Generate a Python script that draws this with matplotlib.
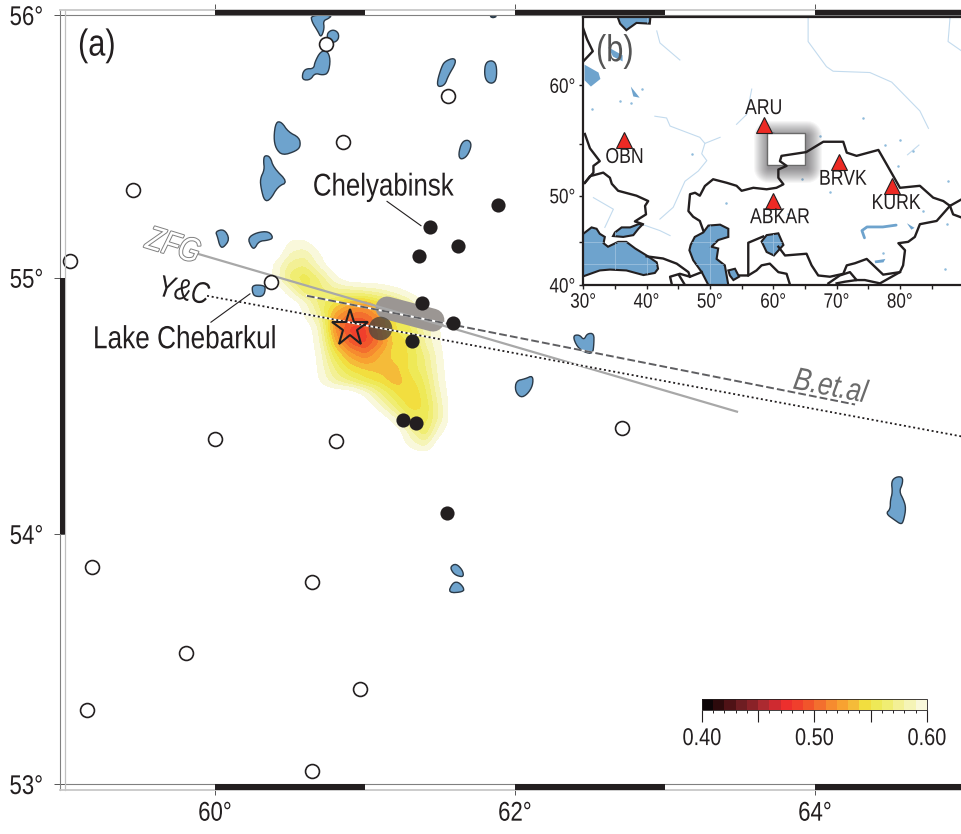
"""Chelyabinsk source map: (a) back-projection map, (b) station inset."""
import numpy as np
import matplotlib
matplotlib.use("Agg")
import matplotlib.pyplot as plt
import matplotlib.patheffects as pe
from matplotlib.colors import ListedColormap
from matplotlib.patches import Rectangle, Polygon
from matplotlib.transforms import Affine2D

plt.rcParams['font.family'] = ['Liberation Sans', 'DejaVu Sans']

INK = '#231f20'
WATER = '#6ea3cd'

# ---- main map data (lon, lat) ----
hollow_lon = [60.74, 61.553, 60.853, 59.453, 59.033, 60.373, 60.0, 60.807, 62.713, 59.18, 60.647, 59.807, 60.967, 59.147, 60.647]
hollow_lat = [55.89, 55.696, 55.521, 55.335, 55.065, 54.984, 54.375, 54.367, 54.418, 53.868, 53.808, 53.528, 53.384, 53.30, 53.052]
solid_lon = [61.433, 61.887, 61.62, 61.36, 61.38, 61.587, 61.313, 61.253, 61.34, 61.547]
solid_lat = [55.194, 55.281, 55.122, 55.084, 54.902, 54.824, 54.754, 54.449, 54.434, 54.082]

star_lon, star_lat = 60.9, 54.805
blob_lon, blob_lat = 61.1, 54.805
track_lon = [61.147, 61.453]
track_lat = [54.883, 54.836]

zfg_lon = [59.867, 63.48]
zfg_lat = [55.095, 54.48]
bet_lon = [60.613, 64.267]
bet_lat = [54.93, 54.508]
yc_lon = [59.947, 64.98]
yc_lat = [54.93, 54.383]

lakes = [
    [(60.647, 55.996), (60.773, 55.996), (60.753, 55.985), (60.72, 55.977), (60.727, 55.951), (60.707, 55.92), (60.687, 55.943), (60.653, 55.973)],
    [(60.753, 55.932), (60.787, 55.943), (60.82, 55.932), (60.82, 55.909), (60.787, 55.897), (60.753, 55.909)],
    [(60.667, 55.821), (60.70, 55.856), (60.74, 55.859), (60.76, 55.829), (60.747, 55.783), (60.713, 55.776), (60.667, 55.783), (60.64, 55.76), (60.593, 55.76), (60.593, 55.783), (60.613, 55.798), (60.66, 55.798)],
    [(61.533, 55.821), (61.587, 55.833), (61.6, 55.817), (61.553, 55.772), (61.533, 55.741), (61.493, 55.734), (61.487, 55.753), (61.513, 55.802)],
    [(61.807, 55.817), (61.847, 55.825), (61.873, 55.81), (61.873, 55.76), (61.847, 55.745), (61.813, 55.753), (61.8, 55.779)],
    [(61.833, 55.996), (61.88, 55.996), (61.853, 55.989)],
    [(60.413, 55.589), (60.447, 55.589), (60.487, 55.555), (60.553, 55.536), (60.56, 55.506), (60.533, 55.49), (60.453, 55.475), (60.413, 55.498), (60.4, 55.536)],
    [(60.333, 55.46), (60.367, 55.456), (60.387, 55.418), (60.473, 55.369), (60.413, 55.354), (60.367, 55.308), (60.333, 55.304), (60.313, 55.346), (60.307, 55.38), (60.333, 55.411), (60.327, 55.441)],
    [(61.647, 55.517), (61.687, 55.525), (61.707, 55.506), (61.68, 55.468), (61.64, 55.456), (61.627, 55.475)],
    [(60.007, 55.175), (60.06, 55.183), (60.093, 55.148), (60.053, 55.118), (60.033, 55.125), (60.02, 55.156)],
    [(60.227, 55.152), (60.28, 55.171), (60.353, 55.175), (60.38, 55.152), (60.347, 55.144), (60.293, 55.141), (60.267, 55.114), (60.247, 55.122)],
    [(60.253, 54.969), (60.313, 54.969), (60.333, 54.961), (60.32, 54.93), (60.267, 54.93), (60.253, 54.945)],
    [(62.393, 54.773), (62.433, 54.777), (62.46, 54.758), (62.48, 54.781), (62.52, 54.781), (62.52, 54.746), (62.513, 54.711), (62.467, 54.715), (62.42, 54.734)],
    [(62.013, 54.598), (62.067, 54.605), (62.113, 54.617), (62.113, 54.582), (62.08, 54.551), (62.04, 54.539), (62.007, 54.563)],
    [(61.573, 53.868), (61.607, 53.88), (61.647, 53.856), (61.653, 53.832), (61.613, 53.836), (61.587, 53.848)],
    [(61.56, 53.768), (61.587, 53.804), (61.62, 53.808), (61.653, 53.788), (61.653, 53.772)],
    [(64.513, 54.199), (64.54, 54.215), (64.58, 54.215), (64.58, 54.191), (64.56, 54.164), (64.587, 54.133), (64.6, 54.105), (64.587, 54.063), (64.573, 54.047), (64.533, 54.063), (64.48, 54.086), (64.507, 54.102), (64.507, 54.133), (64.52, 54.16)],
]

# correlation field, W = outside the plotted range
W = 0.615
heat_lon = [60.3, 60.4, 60.5, 60.6, 60.7, 60.8, 60.9, 61.0, 61.1, 61.2, 61.3, 61.4, 61.5, 61.6, 61.7]
heat_lat = [55.20, 55.15, 55.10, 55.05, 55.00, 54.95, 54.90, 54.85, 54.80, 54.75, 54.70, 54.65, 54.60, 54.55, 54.50, 54.45, 54.40, 54.35, 54.30]
heat = [
    [W, W, W, W, W, W, W, W, W, W, W, W, W, W, W],
    [W, W, .602, .602, W, W, W, W, W, W, W, W, W, W, W],
    [W, W, .59, .585, .602, W, W, W, W, W, W, W, W, W, W],
    [W, .598, .575, .57, .593, W, W, W, W, W, W, W, W, W, W],
    [W, .598, .565, .552, .57, .597, W, W, W, W, W, W, W, W, W],
    [W, W, .59, .56, .565, .575, .575, .58, .585, .595, .605, W, W, W, W],
    [W, W, W, .593, .565, .545, .53, .525, .545, .56, .58, .602, W, W, W],
    [W, W, W, .60, .575, .52, .50, .50, .52, .55, .565, .593, W, W, W],
    [W, W, W, W, .585, .515, .485, .485, .515, .55, .555, .583, .60, W, W],
    [W, W, W, W, .59, .53, .495, .485, .51, .545, .55, .58, .60, W, W],
    [W, W, W, W, .595, .552, .525, .51, .53, .545, .55, .57, .597, W, W],
    [W, W, W, W, .597, .567, .545, .537, .535, .535, .552, .567, .595, W, W],
    [W, W, W, W, .60, .58, .567, .553, .545, .533, .545, .56, .593, W, W],
    [W, W, W, W, W, W, W, .598, .57, .55, .537, .555, .588, W, W],
    [W, W, W, W, W, W, W, W, .593, .565, .545, .55, .583, W, W],
    [W, W, W, W, W, W, W, W, W, .593, .56, .553, .583, W, W],
    [W, W, W, W, W, W, W, W, W, W, .583, .56, .597, W, W],
    [W, W, W, W, W, W, W, W, W, W, .597, .583, W, W, W],
    [W, W, W, W, W, W, W, W, W, W, W, W, W, W, W],
]
heat_levels = np.round(np.arange(0.40, 0.601, 0.01), 2)
heat_colors = ['#0d0507', '#2d0a0c', '#4f1216', '#6e1d22', '#8a2228', '#ac2a30', '#cf2a30', '#ed2f2d', '#f03f2c', '#f1552b',
               '#f36f2e', '#f68b2f', '#f8a231', '#f5bb39', '#f2de3f', '#eee957', '#f0ed72', '#f3f095', '#f5f4b6', '#f9f8db']

black_lon_spans = [(60, 61), (62, 63), (64, 65)]
black_lat_spans = [(54, 55)]

# ---- inset data (lon, lat) ----
stations = ['OBN', 'ARU', 'ABKAR', 'BRVK', 'KURK']
sta_lon = [36.5, 58.6, 60.0, 70.4, 78.7]
sta_lat = [55.35, 56.7, 49.45, 53.3, 50.95]
sta_lab_lon = [36.5, 58.5, 61.05, 70.95, 79.35]
sta_lab_lat = [53.75, 58.1, 47.7, 51.65, 49.2]

seas = [
    [(30, 45.95), (31.3, 46.65), (32.1, 46.5), (32.6, 45.95), (33.4, 45.6), (33.2, 44.9), (33.9, 44.5), (35.5, 45.05), (36.8, 45.05), (38.2, 44.3), (40, 43.5), (41.6, 42.7), (41.8, 41.95), (41.3, 41.45), (39.5, 41.2), (36.8, 41.75), (34.2, 41.85), (32.6, 41.75), (30, 41.05), (29, 41.05), (29, 45.95)],
    [(35, 46.1), (36.05, 46.65), (37.4, 46.65), (38.7, 47.0), (39.4, 47.0), (38.7, 46.5), (37.9, 45.8), (36.3, 45.6), (34.7, 45.7)],
    [(46.95, 44.7), (47.6, 45.6), (48.95, 46.1), (49.75, 46.85), (51.6, 46.95), (52.9, 46.5), (52.9, 45.6), (51.3, 45.25), (50.25, 44.5), (51.3, 44.3), (51.05, 43.1), (52.35, 42.35), (52.9, 40), (52.9, 39), (49.75, 39), (49.75, 40), (48.7, 41.55), (47.35, 42.95), (46.75, 44.1)],
    [(52.9, 41.75), (53.95, 41.95), (54.6, 41), (53.7, 40.6), (53.15, 41.15)],
    [(58.15, 45.1), (58.95, 45.8), (60.8, 46), (61.6, 44.7), (60.1, 43.5), (58.95, 43.9)],
    [(35, 65.5), (35.8, 64.55), (36.8, 64.1), (38.4, 64.6), (40.5, 64.55), (40.7, 65.5)],
]
inland_lakes = [
    [(30.2, 61.6), (32.4, 61), (32.7, 60.5), (31.2, 59.9), (30.2, 60.4)],
    [(33.9, 62.9), (36.2, 62.3), (36.2, 61.85), (34.7, 62.2)],
    [(37.5, 59.9), (38.9, 59), (37.9, 59.1)],
    [(76.0, 42.9), (77.7, 43.1), (77.4, 42.7), (76.1, 42.6)],
    [(81.1, 47.1), (82.3, 46.6), (81.8, 46.4)],
]
speck_lon = [67.35, 77.6, 80, 68.95, 64.5, 79.75, 82.1, 83.7, 87.6, 87.4, 87.1, 77.4, 35.8, 37.6, 39.2, 31.3, 60, 47.2, 52.5, 62.3, 74.1]
speck_lat = [55.75, 54.9, 55.4, 50.35, 51.7, 52.95, 54.35, 48.4, 51.5, 47, 41.95, 43.8, 58.7, 58.6, 59.7, 58.1, 56, 54.1, 49.2, 48.1, 57.3]
balkhash_lon = [74.4, 74.0, 74.8, 77.3, 79.4]
balkhash_lat = [45.5, 46.3, 46.7, 46.7, 46.9]
rivers = [
    [(65.5, 64.9), (65.5, 63.3), (68.4, 61.45), (69.45, 61.1), (75.25, 61), (78.7, 60.25), (83.15, 57.9), (84.5, 56.4)],
    [(87.9, 64.9), (87.6, 63.3), (89.8, 62.6)],
    [(41.6, 64.05), (42.1, 63.2), (45.25, 61.95)],
    [(56.6, 59.7), (55.8, 57.6), (54.2, 56.75)],
    [(41.3, 57.45), (43.15, 57.3), (43.7, 56.6), (48.4, 55.6), (49.2, 55.05), (51.6, 55.6)],
    [(49.2, 55.05), (48.7, 54.1), (49.5, 53.45), (48.15, 52.45), (46.05, 51.45), (44.2, 48.8), (42.1, 47.55)],
    [(31.6, 49.8), (34.75, 48.6), (33.4, 46.65)],
    [(39.2, 47), (42.1, 46.3), (43.7, 45.75)],
    [(60.5, 55.9), (60.5, 54.8)],
    [(81.2, 54.0), (83.0, 54.9)],
]
borders = [
    [(30, 64.2), (30.6, 63.45), (31.5, 62.6), (30, 61.85)],
    [(30.25, 55.9), (31.05, 54.6), (32.6, 53.4), (31.6, 52.95), (31.6, 52.3), (30.25, 51.3), (29, 50.9)],
    [(30.25, 51.3), (31.05, 51.95), (33.15, 52.3), (34.2, 51.8), (34.5, 51.2), (35.5, 50.5), (38.4, 50), (40.25, 49.45), (39.75, 48.95), (39.9, 48.05), (38.95, 47.65), (38.15, 47.3), (39.4, 47)],
    [(40, 43.4), (42.6, 43.15), (44.75, 42.55), (46.6, 41.55), (46.85, 41), (45.25, 41.35), (43.7, 41), (44, 40)],
    [(45.15, 41.15), (46.05, 40)],
    [(46.85, 41), (48.7, 41.55)],
    [(48.95, 46.3), (48.4, 47.35), (47.35, 47.8), (46.6, 48.4), (46.85, 50.15), (47.65, 50.3), (48.4, 50), (49.2, 50.98), (50.5, 51.65), (52.65, 51.3), (54.2, 51), (55, 50.5), (56.85, 50.8), (58.95, 50.65), (60.5, 50.8), (61.6, 51.15), (60.8, 51.8), (60.8, 52.6), (62.1, 52.95), (61.05, 53.4), (61.3, 53.9), (65.2, 54.25), (67.9, 55.2), (71.05, 55.2), (71.6, 54.2), (73.15, 53.9), (76.6, 54.45), (77.9, 53.1), (80, 50.8), (83.15, 51), (85.25, 49.8), (86.85, 49.45), (87.9, 48.95), (89.8, 49.65)],
    [(87.9, 48.95), (88.4, 48.05), (89.8, 47.7)],
    [(87.9, 48.95), (85.8, 47.35), (83.15, 47), (82.35, 45.6), (81.3, 45.05), (79.75, 44.9), (80.8, 44.1), (80.5, 42.35), (80, 41.55), (77.35, 41.25), (74.75, 43.1), (72.9, 42.6), (71.6, 42.35), (71.05, 41.35), (68.95, 41), (67.1, 41.15), (66.05, 42.35), (65.25, 43.7), (61.85, 43.5), (60.8, 44.5)],
    [(68.7, 40.2), (70.5, 41.15), (72.1, 41.55), (73.15, 40.6), (71.3, 40.4), (70, 40.2)],
    [(73.15, 40.6), (74.45, 40.6), (76.85, 40.2), (80, 41.55)],
    [(58.4, 45.65), (56.05, 44.95), (56.05, 41.15), (54.75, 41.15)],
    [(56.05, 41.15), (57.35, 41.75), (58.15, 42.35), (59.45, 42.55), (60.8, 41.55), (62.1, 41.35), (62.65, 40)],
]
study_box = (59, 65, 53, 56)


def merc(lat):
    lat = np.radians(np.asarray(lat, dtype=float))
    return np.log(np.tan(np.pi / 4 + lat / 2))


def merc_inv(y):
    return np.degrees(2 * np.arctan(np.exp(np.asarray(y, dtype=float))) - np.pi / 2)


def smooth(pts, n=2, grow=1.12):
    # Chaikin corner cutting so lakes do not look like polygons
    p = np.array(pts, dtype=float)
    c = p.mean(axis=0)
    p = c + (p - c) * grow
    for _ in range(n):
        q = np.roll(p, -1, axis=0)
        p = np.column_stack([0.75 * p + 0.25 * q, 0.25 * p + 0.75 * q]).reshape(-1, 2)
    return p


def fine_grid(xs, ys, z, k=5):
    # resample the hand-read grid and soften it so contours are not faceted
    z = np.array(z, dtype=float)
    fx = np.linspace(xs[0], xs[-1], (len(xs) - 1) * k + 1)
    order = np.argsort(ys)
    ya = np.array(ys)[order]
    fy = np.linspace(ya[0], ya[-1], (len(ys) - 1) * k + 1)
    a = np.array([np.interp(fx, xs, row) for row in z[order]])
    a = np.array([np.interp(fy, ya, col) for col in a.T]).T
    w = np.hanning(k + 2)[1:-1]
    w = w / w.sum()
    for axis in (0, 1):
        a = np.apply_along_axis(lambda v: np.convolve(np.pad(v, k, mode='edge'), w, mode='same')[k:-k], axis, a)
    return fx, fy, a


class Condense(pe.AbstractPathEffect):
    """Squeeze a text along its baseline (the reference uses a narrow Helvetica)."""

    def __init__(self, sx=0.82, stroke=None):
        super().__init__()
        self.sx = sx
        self.stroke = stroke

    def draw_path(self, renderer, gc, tpath, affine, rgbFace=None):
        ext = tpath.get_extents()
        cx = 0.5 * (ext.x0 + ext.x1)
        new = Affine2D().translate(-cx, 0).scale(self.sx, 1).translate(cx, 0) + affine
        if self.stroke is not None:
            pe.Stroke(linewidth=self.stroke[0], foreground=self.stroke[1]).draw_path(renderer, gc, tpath, new, rgbFace)
        renderer.draw_path(gc, tpath, new, rgbFace)


NARROW = [Condense()]

W_PX, H_PX = 962, 834
fig = plt.figure(figsize=(W_PX / 100, H_PX / 100), dpi=100, facecolor='white')


def add_px_axes(left, top, right, bottom, **kw):
    return fig.add_axes([left / W_PX, 1 - bottom / H_PX, (right - left) / W_PX, (bottom - top) / H_PX], **kw)


# ---- panel (a) ----
ax = add_px_axes(65, 15, 962, 784)
ax.set_yscale('function', functions=(merc, merc_inv))
ax.set_xlim(59.0, 64.98)
ax.set_ylim(53, 56)
ax.set_facecolor('none')

cmap = ListedColormap(heat_colors)
fx, fy, fz = fine_grid(heat_lon, heat_lat, heat)
cf = ax.contourf(fx, fy, fz, levels=heat_levels, cmap=cmap, zorder=1)

for lake in lakes:
    ax.add_patch(Polygon(smooth(lake), closed=True, fc=WATER, ec='#2b3a48', lw=1.0, zorder=2))

ax.plot(track_lon, track_lat, color='#9b9693', lw=16.5, solid_capstyle='round', zorder=3)
ax.plot(zfg_lon, zfg_lat, color='#a8a8a8', lw=1.6, zorder=4)
ax.plot(bet_lon, bet_lat, color='white', lw=1.4, zorder=4)
ax.plot(bet_lon, bet_lat, color='#5f5f62', lw=1.4, ls=(0, (4, 1.6)), zorder=4)
ax.plot(blob_lon, blob_lat, 'o', color='#4e463c', alpha=0.8, ms=17, mew=0, zorder=4)
ax.plot(yc_lon, yc_lat, color='white', lw=1.3, zorder=5)
ax.plot(yc_lon, yc_lat, color=INK, lw=1.3, ls=(0, (1.1, 1.5)), zorder=5)
ax.plot(star_lon, star_lat, '*', mfc='none', mec=INK, ms=28, mew=1.5, zorder=6)
ax.plot(solid_lon, solid_lat, 'o', color=INK, ms=10.2, mew=0, zorder=7)
ax.plot(hollow_lon, hollow_lat, 'o', mfc='white', mec=INK, ms=10, mew=1.2, zorder=7, clip_on=False)

ax.plot([61.147, 61.373], [55.293, 55.2], color=INK, lw=0.8, zorder=6)
ax.plot([59.973, 60.233], [54.828, 54.9375], color=INK, lw=0.8, zorder=6)

ax.text(61.12, 55.346, 'Chelyabinsk', fontsize=22.7, color=INK, ha='center', va='center', zorder=8, path_effects=NARROW)
ax.text(59.8, 54.758, 'Lake Chebarkul', fontsize=23, color=INK, ha='center', va='center', zorder=8, path_effects=NARROW)
ax.text(59.72, 55.118, 'ZFG', fontsize=24, style='italic', color='white', rotation=-17, ha='center', va='center', zorder=8,
        path_effects=[Condense(stroke=(1.4, '#808080'))])
ax.text(59.787, 54.945, 'Y&C', fontsize=22, style='italic', color=INK, rotation=-10, ha='center', va='center', zorder=8, path_effects=NARROW)
ax.text(64.1, 54.574, 'B.et.al', fontsize=23, style='italic', color='#6b6b6b', rotation=-11, ha='center', va='center', zorder=8, path_effects=NARROW)
ax.text(59.213, 55.885, '(a)', fontsize=27, color=INK, ha='center', va='center', zorder=8, path_effects=NARROW)

# double frame with alternating bars
for s in ax.spines.values():
    s.set_visible(False)
off_x = 5.5 / 897
off_y = 5.5 / 769
xt, yt = ax.get_xaxis_transform(), ax.get_yaxis_transform()
ax.plot([0, 1], [1, 1], transform=ax.transAxes, color='#808080', lw=0.8, clip_on=False, zorder=9)
ax.plot([0, 1], [0, 0], transform=ax.transAxes, color='#808080', lw=0.8, clip_on=False, zorder=9)
ax.plot([0, 0], [-off_y, 1 + off_y], transform=ax.transAxes, color='#c0c0c0', lw=0.9, clip_on=False, zorder=9)
ax.plot([-off_x, -off_x], [-off_y, 1 + off_y], transform=ax.transAxes, color='#808080', lw=0.8, clip_on=False, zorder=9)
ax.plot([-off_x, 1], [1 + off_y, 1 + off_y], transform=ax.transAxes, color='#c8c8c8', lw=1.3, clip_on=False, zorder=9)
ax.plot([-off_x, 1], [-off_y, -off_y], transform=ax.transAxes, color='#c8c8c8', lw=1.3, clip_on=False, zorder=9)
for x0, x1 in black_lon_spans:
    ax.add_patch(Rectangle((x0, 1), x1 - x0, off_y, transform=xt, fc=INK, ec='none', clip_on=False, zorder=10))
    ax.add_patch(Rectangle((x0, -off_y), x1 - x0, off_y, transform=xt, fc=INK, ec='none', clip_on=False, zorder=10))
for y0, y1 in black_lat_spans:
    ax.add_patch(Rectangle((-off_x, y0), off_x, y1 - y0, transform=yt, fc=INK, ec='none', clip_on=False, zorder=10))

ax.set_xticks([60, 62, 64], ['60°', '62°', '64°'])
ax.set_yticks([53, 54, 55, 56], ['53°', '54°', '55°', '56°'])
ax.minorticks_off()
ax.yaxis.set_minor_locator(plt.NullLocator())
ax.tick_params(axis='both', length=8, width=0.7, color='#555555', labelsize=19.5, labelcolor=INK, top=True, right=False)
ax.tick_params(axis='x', pad=4)
ax.tick_params(axis='y', pad=5)
for lab in ax.get_xticklabels() + ax.get_yticklabels():
    lab.set_path_effects(NARROW)

# ---- colourbar ----
cax = add_px_axes(702, 699, 927, 710)
cb = fig.colorbar(cf, cax=cax, orientation='horizontal', spacing='proportional')
cb.set_ticks([0.40, 0.45, 0.50, 0.55, 0.60], labels=['0.40', '', '0.50', '', '0.60'])
cb.ax.xaxis.set_minor_locator(plt.FixedLocator(heat_levels))
cb.ax.tick_params(axis='x', which='major', length=8.5, width=0.8, color=INK, labelsize=17.5, labelcolor=INK, pad=4.5)
cb.ax.tick_params(axis='x', which='minor', length=2.5, width=0.7, color=INK)
cb.outline.set_linewidth(0.6)
cb.outline.set_edgecolor(INK)
for lab in cb.ax.get_xticklabels():
    lab.set_path_effects(NARROW)

# ---- panel (b) ----
inset = add_px_axes(583.3, 17, 962, 285)
inset.set_yscale('function', functions=(merc, merc_inv))
inset.set_xlim(30, 89.8)
inset.set_ylim(40, 65)
inset.set_facecolor('white')

for r in rivers:
    r = np.array(r)
    inset.plot(r[:, 0], r[:, 1], color='#c3dbee', lw=0.8, zorder=1)
inset.plot(speck_lon, speck_lat, 'o', color='#8fbbdc', ms=1.8, mew=0, zorder=1)
inset.plot(balkhash_lon, balkhash_lat, color=WATER, lw=2.0, zorder=1, solid_capstyle='round')
for lake in inland_lakes:
    inset.add_patch(Polygon(lake, closed=True, fc=WATER, ec='none', zorder=1))
for sea in seas:
    patch = Polygon(sea, closed=True, fc=WATER, ec=INK, lw=1.5, zorder=2)
    inset.add_patch(patch)
    # the graticule shows faintly through the water
    for x in [35, 40, 45, 50, 55, 60]:
        line, = inset.plot([x, x], [40, 65], color='#a5c6e2', lw=0.5, zorder=2.1)
        line.set_clip_path(patch)
    for y in [42.5, 45]:
        line, = inset.plot([30, 90], [y, y], color='#a5c6e2', lw=0.5, zorder=2.1)
        line.set_clip_path(patch)

lon0, lon1, lat0, lat1 = study_box
for w in np.arange(2, 32, 2):
    # soft drop shadow, heaviest right next to the box
    inset.add_patch(Rectangle((lon0 + 0.3, lat0 - 0.25), lon1 - lon0, lat1 - lat0, fc='none', ec='#201c22',
                              lw=w * 0.72, joinstyle='round', alpha=0.04, zorder=3))
inset.add_patch(Rectangle((lon0, lat0), lon1 - lon0, lat1 - lat0, fc='white', ec='#6a6a6a', lw=1.0, zorder=3))

for b in borders:
    b = np.array(b)
    inset.plot(b[:, 0], b[:, 1], color=INK, lw=1.7, solid_joinstyle='round', zorder=4)

inset.plot(sta_lon, sta_lat, '^', mfc='#ed2a24', mec=INK, ms=11.5, mew=0.8, zorder=5)
for name, x, y in zip(stations, sta_lab_lon, sta_lab_lat):
    inset.text(x, y, name, fontsize=15.5, color=INK, ha='center', va='center', zorder=6, path_effects=NARROW)
inset.text(35, 62.6, '(b)', fontsize=27, color='#555555', ha='center', va='center', zorder=6, path_effects=NARROW)

inset.set_xticks([30, 40, 50, 60, 70, 80], ['30°', '40°', '50°', '60°', '70°', '80°'])
inset.set_yticks([40, 50, 60], ['40°', '50°', '60°'])
inset.set_xticks([35, 45, 55, 65, 75, 85], minor=True)
inset.set_yticks([45, 55], minor=True)
inset.tick_params(axis='both', which='major', length=3, width=1.0, color=INK, labelsize=15, labelcolor=INK, pad=2.5)
inset.tick_params(axis='y', which='major', pad=0.5)
inset.tick_params(axis='both', which='minor', length=3, width=1.0, color=INK)
inset.spines['right'].set_visible(False)
for side in ['left', 'bottom', 'top']:
    inset.spines[side].set_linewidth(1.6)
    inset.spines[side].set_color(INK)
for lab in inset.get_xticklabels() + inset.get_yticklabels():
    lab.set_path_effects(NARROW)

fig.savefig('out.png', dpi=100)
